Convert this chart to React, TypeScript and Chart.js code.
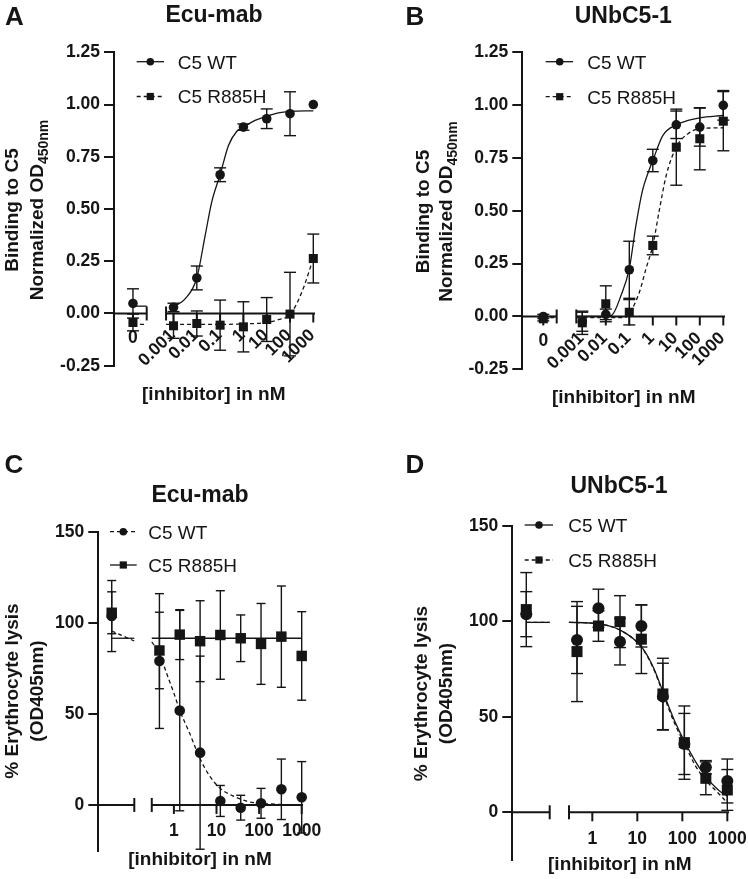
import React, { useEffect, useRef } from "react";
import { Chart, registerables } from "chart.js";

Chart.register(...registerables);

const FONT = "'Liberation Sans', Arial, Helvetica, sans-serif";
const INK = "#151515";
const WT_LABEL = "C5 WT";
const MUT_LABEL = "C5 R885H";

// ---------------- Panel A: Ecu-mab binding ----------------
const A_CONC = [0, 0.001, 0.01, 0.1, 1, 10, 100, 1000];
const A_WT = [0.048, 0.029, 0.17, 0.664, 0.892, 0.932, 0.956, 1.0];
const A_WT_ERR = [0.07, 0.02, 0.057, 0.033, 0.015, 0.047, 0.105, 0];
const A_MUT = [-0.043, -0.059, -0.048, -0.056, -0.064, -0.029, -0.003, 0.263];
const A_MUT_ERR = [0.04, 0.06, 0.06, 0.12, 0.12, 0.105, 0.2, 0.117];
const A_WT_FIT_LOG = [-3, -2.5, -2, -1.64, -1.36, -1, -0.64, -0.29, 0, 0.5, 1, 1.5, 2, 3];
const A_WT_FIT = [0.032, 0.07, 0.17, 0.374, 0.533, 0.664, 0.804, 0.871, 0.892, 0.924, 0.944, 0.96, 0.967, 0.97];
const A_WT_FIT_ZERO = [0.035, 0.035];
const A_MUT_FIT_LOG = [-3.32, -2, -1, 0, 1, 1.5, 2, 2.5, 3];
const A_MUT_FIT = [-0.052, -0.052, -0.052, -0.05, -0.043, -0.03, -0.005, 0.1, 0.263];
const A_MUT_FIT_ZERO = [-0.052, -0.052];

// ---------------- Panel B: UNbC5-1 binding ----------------
const B_CONC = [0, 0.001, 0.01, 0.1, 1, 10, 100, 1000];
const B_WT = [0.0, -0.025, 0.01, 0.221, 0.738, 0.907, 0.896, 0.999];
const B_WT_ERR = [0.01, 0.045, 0.025, 0.135, 0.053, 0.065, 0.09, 0.07];
const B_MUT = [-0.011, -0.03, 0.06, 0.02, 0.336, 0.801, 0.841, 0.924];
const B_MUT_ERR = [0.01, 0.055, 0.085, 0.06, 0.044, 0.18, 0.147, 0.14];
const B_WT_FIT_LOG = [-3.255, -2, -1.75, -1.35, -1, -0.72, -0.43, -0.2, 0, 0.43, 1, 1.5, 2, 3];
const B_WT_FIT = [0, 0, 0.005, 0.1, 0.226, 0.43, 0.6, 0.68, 0.738, 0.857, 0.907, 0.928, 0.94, 0.951];
const B_WT_FIT_ZERO = [0, 0];
const B_MUT_FIT_LOG = [-3.255, -1.2, -1, -0.57, -0.29, 0, 0.29, 0.57, 1, 1.5, 2, 3];
const B_MUT_FIT = [-0.005, -0.005, 0.013, 0.115, 0.226, 0.336, 0.51, 0.667, 0.801, 0.865, 0.888, 0.893];
const B_MUT_FIT_ZERO = [-0.005, -0.005];

// ---------------- Panel C: Ecu-mab lysis ----------------
const C_CONC = [0, 0.457, 1.37, 4.12, 12.3, 37, 111, 333, 1000];
const C_WT = [103.7, 79.0, 51.8, 28.7, 2.2, -1.5, 0.9, 8.6, 4.2];
const C_WT_ERR = [19.5, 37, 55, 53, 8.5, 6.8, 8.2, 16.6, 19.6];
const C_MUT = [105.5, 84.8, 93.5, 89.9, 93.3, 91.5, 88.4, 92.4, 81.8];
const C_MUT_ERR = [11.5, 21, 13.7, 22.2, 24.3, 12.8, 22.2, 27.8, 24.3];
const C_WT_FIT_LOG = [-0.52, -0.34, -0.17, 0, 0.14, 0.37, 0.61, 0.85, 1.09, 1.42, 1.75, 2.05, 2.5, 3];
const C_WT_FIT = [89.6, 83, 72.2, 61.3, 51.8, 39.3, 25.6, 15.5, 9.1, 4.6, 1.8, 0.9, 0.3, 0.1];
const C_WT_FIT_ZERO = [95.5, 90];
const C_MUT_FIT_LOG = [-0.52, 3];
const C_MUT_FIT = [91.5, 91.5];
const C_MUT_FIT_ZERO = [91.5, 91.5];

// ---------------- Panel D: UNbC5-1 lysis ----------------
const D_CONC = [0, 0.457, 1.37, 4.12, 12.3, 37, 111, 333, 1000];
const D_WT = [103.8, 90.3, 106.9, 89.4, 97.6, 60.6, 35.8, 23.6, 16.4];
const D_WT_ERR = [11.8, 17.6, 10, 12.2, 11, 17.5, 16, 3.5, 11.5];
const D_MUT = [106.2, 84.2, 97.6, 99.9, 90.7, 62, 36.5, 17.8, 11.7];
const D_MUT_ERR = [19.4, 26.2, 8, 13.6, 18, 18.7, 19.2, 8.6, 10.7];
const D_FIT_LOG = [-0.52, 0, 0.61, 1.09, 1.35, 1.57, 1.82, 2.05, 2.28, 2.52, 2.8, 3];
const D_WT_FIT = [99.5, 99.1, 95.6, 86.8, 76.3, 63.2, 48.4, 37, 27.1, 18.7, 11.7, 8.5];
const D_MUT_FIT = [99.5, 99.1, 95.5, 86.5, 75.8, 62.3, 47, 35.8, 24.8, 16.9, 10, 5.0];
const D_WT_FIT_ZERO = [99.5, 99.5];
const D_MUT_FIT_ZERO = [99.5, 99.5];

// ---------------- axis ticks / labels ----------------
const BIND_Y_TICKS = [-0.25, 0, 0.25, 0.5, 0.75, 1.0, 1.25];
const LYSIS_Y_TICKS = [0, 50, 100, 150];
const BIND_X_TICK_LOGS = [-3, -2, -1, 0, 1, 2, 3];
const BIND_X_TICK_LABELS = ["0.001", "0.01", "0.1", "1", "10", "100", "1000"];
const LYSIS_X_TICK_LOGS = [0, 1, 2, 3];
const LYSIS_X_TICK_LABELS = ["1", "10", "100", "1000"];
const X_TITLE = "[inhibitor] in nM";
const BIND_Y_TITLE = ["Binding to C5", "Normalized OD", "450nm"];
const LYSIS_Y_TITLE = ["% Erythrocyte lysis", "(OD405nm)", ""];

type Series = {
  label: string;
  conc: number[];
  val: number[];
  err: number[];
  fitLog: number[];
  fitVal: number[];
  fitZero: number[];
  marker: "circle" | "rect";
  dashed: boolean;
};

type Geom = {
  cx: number; cy: number; w: number; h: number;
  left: number; top: number; right: number; bottom: number;
  xMin: number; xMax: number; zero: number; zeroEnd: number; logStart: number;
  circleR: number; rectR: number; cap: number;
  letter: [number, number]; title: [number, number];
  yTitle: [number, number, number]; xTitle: [number, number];
  legend: { x0: number; x1: number; mx: number; tx: number; rows: number[] };
};

type Panel = {
  letter: string;
  title: string;
  yTitle: string[];
  yMin: number; yMax: number; yTicks: number[]; yDec: number;
  xTickLogs: number[]; xTickLabels: string[]; rotated: boolean; zeroLabel: string;
  series: Series[];
  geom: Geom;
};

const PANELS: Panel[] = [
  {
    letter: "A", title: "Ecu-mab", yTitle: BIND_Y_TITLE,
    yMin: -0.25, yMax: 1.25, yTicks: BIND_Y_TICKS, yDec: 2,
    xTickLogs: BIND_X_TICK_LOGS, xTickLabels: BIND_X_TICK_LABELS, rotated: true, zeroLabel: "0",
    series: [
      { label: WT_LABEL, conc: A_CONC, val: A_WT, err: A_WT_ERR, fitLog: A_WT_FIT_LOG, fitVal: A_WT_FIT, fitZero: A_WT_FIT_ZERO, marker: "circle", dashed: false },
      { label: MUT_LABEL, conc: A_CONC, val: A_MUT, err: A_MUT_ERR, fitLog: A_MUT_FIT_LOG, fitVal: A_MUT_FIT, fitZero: A_MUT_FIT_ZERO, marker: "rect", dashed: true },
    ],
    geom: {
      cx: 0, cy: 0, w: 374, h: 440, left: 114, top: 52.3, right: 314, bottom: 365.7,
      xMin: -5.554, xMax: 3.03, zero: -4.74, zeroEnd: -4.15, logStart: -3.32,
      circleR: 4.8, rectR: 6.4, cap: 6,
      letter: [14.5, 25], title: [214, 21.7], yTitle: [18, 42.5, 210], xTitle: [213.8, 399.5],
      legend: { x0: 136.7, x1: 164, mx: 150.3, tx: 177.7, rows: [61.7, 96.5] },
    },
  },
  {
    letter: "B", title: "UNbC5-1", yTitle: BIND_Y_TITLE,
    yMin: -0.25, yMax: 1.25, yTicks: BIND_Y_TICKS, yDec: 2,
    xTickLogs: BIND_X_TICK_LOGS, xTickLabels: BIND_X_TICK_LABELS, rotated: true, zeroLabel: "0",
    series: [
      { label: WT_LABEL, conc: B_CONC, val: B_WT, err: B_WT_ERR, fitLog: B_WT_FIT_LOG, fitVal: B_WT_FIT, fitZero: B_WT_FIT_ZERO, marker: "circle", dashed: false },
      { label: MUT_LABEL, conc: B_CONC, val: B_MUT, err: B_MUT_ERR, fitLog: B_MUT_FIT_LOG, fitVal: B_MUT_FIT, fitZero: B_MUT_FIT_ZERO, marker: "rect", dashed: true },
    ],
    geom: {
      cx: 374, cy: 0, w: 374, h: 440, left: 148.3, top: 52.3, right: 350, bottom: 369.3,
      xMin: -5.553, xMax: 3.03, zero: -4.66, zeroEnd: -4.09, logStart: -3.255,
      circleR: 4.8, rectR: 6.4, cap: 6,
      letter: [41, 25], title: [249.3, 23.3], yTitle: [55, 78.3, 211.5], xTitle: [249.7, 403],
      legend: { x0: 171.7, x1: 199, mx: 185.7, tx: 213.3, rows: [61.7, 96.7] },
    },
  },
  {
    letter: "C", title: "Ecu-mab", yTitle: LYSIS_Y_TITLE,
    yMin: -25, yMax: 150, yTicks: LYSIS_Y_TICKS, yDec: 0,
    xTickLogs: LYSIS_X_TICK_LOGS, xTickLabels: LYSIS_X_TICK_LABELS, rotated: false, zeroLabel: "",
    series: [
      { label: WT_LABEL, conc: C_CONC, val: C_WT, err: C_WT_ERR, fitLog: C_WT_FIT_LOG, fitVal: C_WT_FIT, fitZero: C_WT_FIT_ZERO, marker: "circle", dashed: true },
      { label: MUT_LABEL, conc: C_CONC, val: C_MUT, err: C_MUT_ERR, fitLog: C_MUT_FIT_LOG, fitVal: C_MUT_FIT, fitZero: C_MUT_FIT_ZERO, marker: "rect", dashed: false },
    ],
    geom: {
      cx: 0, cy: 440, w: 374, h: 439, left: 98.3, top: 91.7, right: 302, bottom: 410.5,
      xMin: -1.775, xMax: 3.007, zero: -1.46, zeroEnd: -0.93, logStart: -0.52,
      circleR: 5.3, rectR: 7.4, cap: 4.5,
      letter: [14, 33.3], title: [200, 61.7], yTitle: [17.7, 42.7, 251], xTitle: [200, 425],
      legend: { x0: 110, x1: 136.7, mx: 123.3, tx: 148.3, rows: [91.7, 125] },
    },
  },
  {
    letter: "D", title: "UNbC5-1", yTitle: LYSIS_Y_TITLE,
    yMin: -25, yMax: 150, yTicks: LYSIS_Y_TICKS, yDec: 0,
    xTickLogs: LYSIS_X_TICK_LOGS, xTickLabels: LYSIS_X_TICK_LABELS, rotated: false, zeroLabel: "",
    series: [
      { label: WT_LABEL, conc: D_CONC, val: D_WT, err: D_WT_ERR, fitLog: D_FIT_LOG, fitVal: D_WT_FIT, fitZero: D_WT_FIT_ZERO, marker: "circle", dashed: false },
      { label: MUT_LABEL, conc: D_CONC, val: D_MUT, err: D_MUT_ERR, fitLog: D_FIT_LOG, fitVal: D_MUT_FIT, fitZero: D_MUT_FIT_ZERO, marker: "rect", dashed: true },
    ],
    geom: {
      cx: 374, cy: 440, w: 374, h: 439, left: 138.3, top: 86, right: 354, bottom: 420,
      xMin: -1.778, xMax: 3.015, zero: -1.467, zeroEnd: -0.947, logStart: -0.518,
      circleR: 6, rectR: 7.8, cap: 6,
      letter: [41, 33.3], title: [245, 53.3], yTitle: [52.7, 78.3, 253.5], xTitle: [245.8, 430],
      legend: { x0: 150.7, x1: 179, mx: 165, tx: 194.3, rows: [85, 120] },
    },
  },
];

function xPos(p: Panel, c: number) {
  return c === 0 ? p.geom.zero : Math.log10(c);
}

function seg(ctx: CanvasRenderingContext2D, x1: number, y1: number, x2: number, y2: number) {
  ctx.beginPath();
  ctx.moveTo(x1, y1);
  ctx.lineTo(x2, y2);
  ctx.stroke();
}

function makePlugin(p: Panel) {
  const g = p.geom;
  return {
    id: "panel" + p.letter,
    beforeDatasetsDraw(chart: any) {
      const { ctx, chartArea, scales } = chart;
      const xs = scales.x;
      const ys = scales.y;
      const y0 = ys.getPixelForValue(0);
      ctx.save();
      ctx.strokeStyle = INK;
      ctx.fillStyle = INK;
      ctx.lineWidth = 2;
      ctx.setLineDash([]);
      // broken x axis
      const xe = xs.getPixelForValue(g.zeroEnd);
      const xl = xs.getPixelForValue(g.logStart);
      seg(ctx, chartArea.left, y0, xe, y0);
      seg(ctx, xe, y0 - 7, xe, y0 + 7);
      seg(ctx, xl, y0, chartArea.right + 1, y0);
      seg(ctx, xl, y0 - 7, xl, y0 + 7);
      p.xTickLogs.forEach((v) => {
        const x = xs.getPixelForValue(v);
        seg(ctx, x, y0, x, y0 + 9);
      });
      if (p.zeroLabel) {
        const x = xs.getPixelForValue(g.zero);
        seg(ctx, x, y0, x, y0 + 9);
      }
      // tick labels
      ctx.font = `bold 17.5px ${FONT}`;
      p.xTickLogs.forEach((v, i) => {
        const x = xs.getPixelForValue(v);
        if (p.rotated) {
          ctx.save();
          ctx.translate(x - 1, y0 + 19);
          ctx.rotate(-Math.PI / 4);
          ctx.textAlign = "right";
          ctx.textBaseline = "middle";
          ctx.fillText(p.xTickLabels[i], 0, 0);
          ctx.restore();
        } else {
          ctx.textAlign = "center";
          ctx.textBaseline = "alphabetic";
          ctx.fillText(p.xTickLabels[i], x, y0 + 31.5);
        }
      });
      if (p.zeroLabel) {
        ctx.textAlign = "center";
        ctx.textBaseline = "alphabetic";
        ctx.fillText(p.zeroLabel, xs.getPixelForValue(g.zero), y0 + 29.5);
      }
      // error bars
      ctx.lineWidth = 1.4;
      p.series.forEach((s) => {
        s.conc.forEach((c, i) => {
          if (!s.err[i]) return;
          const x = xs.getPixelForValue(xPos(p, c));
          const yt = ys.getPixelForValue(s.val[i] + s.err[i]);
          const yb = ys.getPixelForValue(Math.max(s.val[i] - s.err[i], p.yMin));
          seg(ctx, x, yt, x, yb);
          seg(ctx, x - g.cap, yt, x + g.cap, yt);
          if (s.val[i] - s.err[i] >= p.yMin) seg(ctx, x - g.cap, yb, x + g.cap, yb);
        });
      });
      ctx.restore();
    },
    afterDraw(chart: any) {
      const ctx: CanvasRenderingContext2D = chart.ctx;
      ctx.save();
      ctx.fillStyle = INK;
      ctx.strokeStyle = INK;
      ctx.textBaseline = "alphabetic";
      // panel letter
      ctx.textAlign = "center";
      ctx.font = `bold 26px ${FONT}`;
      ctx.fillText(p.letter, g.letter[0], g.letter[1]);
      // title
      ctx.font = `bold 23px ${FONT}`;
      ctx.fillText(p.title, g.title[0], g.title[1]);
      // x title
      ctx.font = `bold 19px ${FONT}`;
      ctx.fillText(X_TITLE, g.xTitle[0], g.xTitle[1]);
      // y title (two rotated lines, optional subscript)
      const drawRot = (text: string, sub: string, bx: number) => {
        ctx.save();
        ctx.translate(bx, g.yTitle[2]);
        ctx.rotate(-Math.PI / 2);
        ctx.textAlign = "left";
        ctx.font = `bold 19px ${FONT}`;
        const w1 = ctx.measureText(text).width;
        let w2 = 0;
        if (sub) {
          ctx.font = `bold 14px ${FONT}`;
          w2 = ctx.measureText(sub).width;
        }
        const start = -(w1 + w2) / 2;
        ctx.font = `bold 19px ${FONT}`;
        ctx.fillText(text, start, 0);
        if (sub) {
          ctx.font = `bold 14px ${FONT}`;
          ctx.fillText(sub, start + w1, 5);
        }
        ctx.restore();
      };
      drawRot(p.yTitle[0], "", g.yTitle[0]);
      drawRot(p.yTitle[1], p.yTitle[2], g.yTitle[1]);
      // legend
      const L = g.legend;
      p.series.forEach((s, k) => {
        const ry = L.rows[k];
        ctx.lineWidth = 1.3;
        ctx.setLineDash(s.dashed ? [4, 3] : []);
        seg(ctx, L.x0, ry, L.x1, ry);
        ctx.setLineDash([]);
        if (s.marker === "circle") {
          ctx.beginPath();
          ctx.arc(L.mx, ry, 3.8, 0, Math.PI * 2);
          ctx.fill();
        } else {
          ctx.fillRect(L.mx - 3.6, ry - 3.6, 7.2, 7.2);
        }
        ctx.textAlign = "left";
        ctx.font = `19px ${FONT}`;
        ctx.fillText(s.label, L.tx, ry + 6.8);
      });
      ctx.restore();
    },
  };
}

function buildDatasets(p: Panel) {
  const g = p.geom;
  const ds: any[] = [];
  p.series.forEach((s) => {
    ds.push({
      label: s.label,
      data: s.conc.map((c, i) => ({ x: xPos(p, c), y: s.val[i] })),
      showLine: false,
      pointStyle: s.marker,
      pointRadius: s.marker === "circle" ? g.circleR : g.rectR,
      pointHoverRadius: s.marker === "circle" ? g.circleR : g.rectR,
      pointBackgroundColor: INK,
      pointBorderColor: INK,
      pointBorderWidth: 0,
      clip: false,
    });
  });
  p.series.forEach((s) => {
    const common = {
      borderColor: INK,
      borderWidth: 1.3,
      borderDash: s.dashed ? [4, 3] : [],
      pointRadius: 0,
      pointHoverRadius: 0,
      fill: false,
      clip: false,
    };
    ds.push({
      ...common,
      label: s.label + " fit",
      data: s.fitLog.map((l, i) => ({ x: l, y: s.fitVal[i] })),
      cubicInterpolationMode: "monotone",
    });
    ds.push({
      ...common,
      label: s.label + " fit at 0",
      data: [
        { x: g.zero, y: s.fitZero[0] },
        { x: g.zeroEnd, y: s.fitZero[1] },
      ],
    });
  });
  return ds;
}

function PanelChart({ p }: { p: Panel }) {
  const ref = useRef<HTMLCanvasElement | null>(null);
  useEffect(() => {
    if (!ref.current) return;
    const g = p.geom;
    const chart = new Chart(ref.current, {
      type: "line",
      data: { datasets: buildDatasets(p) },
      options: {
        responsive: false,
        animation: false,
        devicePixelRatio: 1,
        events: [],
        layout: {
          padding: { left: 0, top: g.top, right: g.w - g.right, bottom: g.h - g.bottom },
        },
        plugins: { legend: { display: false }, tooltip: { enabled: false } },
        scales: {
          x: { type: "linear", display: false, min: g.xMin, max: g.xMax },
          y: {
            type: "linear",
            min: p.yMin,
            max: p.yMax,
            afterBuildTicks: (scale: any) => {
              scale.ticks = p.yTicks.map((v) => ({ value: v }));
            },
            afterFit: (scale: any) => {
              scale.width = g.left;
            },
            ticks: {
              color: INK,
              padding: 4,
              font: { family: FONT, size: 17.5, weight: "bold" },
              callback: (v: any) => Number(v).toFixed(p.yDec),
            },
            grid: { drawOnChartArea: false, drawTicks: true, tickLength: 10, color: INK, lineWidth: 2 },
            border: { display: true, color: INK, width: 2 },
          },
        },
      } as any,
      plugins: [makePlugin(p)],
    });
    return () => chart.destroy();
  }, [p]);
  return (
    <canvas
      ref={ref}
      width={p.geom.w}
      height={p.geom.h}
      style={{ position: "absolute", left: p.geom.cx, top: p.geom.cy, width: p.geom.w, height: p.geom.h }}
    />
  );
}

export default function App() {
  return (
    <div style={{ position: "absolute", left: 0, top: 0, width: 748, height: 879, background: "#fff" }}>
      {PANELS.map((p) => (
        <PanelChart key={p.letter} p={p} />
      ))}
    </div>
  );
}
